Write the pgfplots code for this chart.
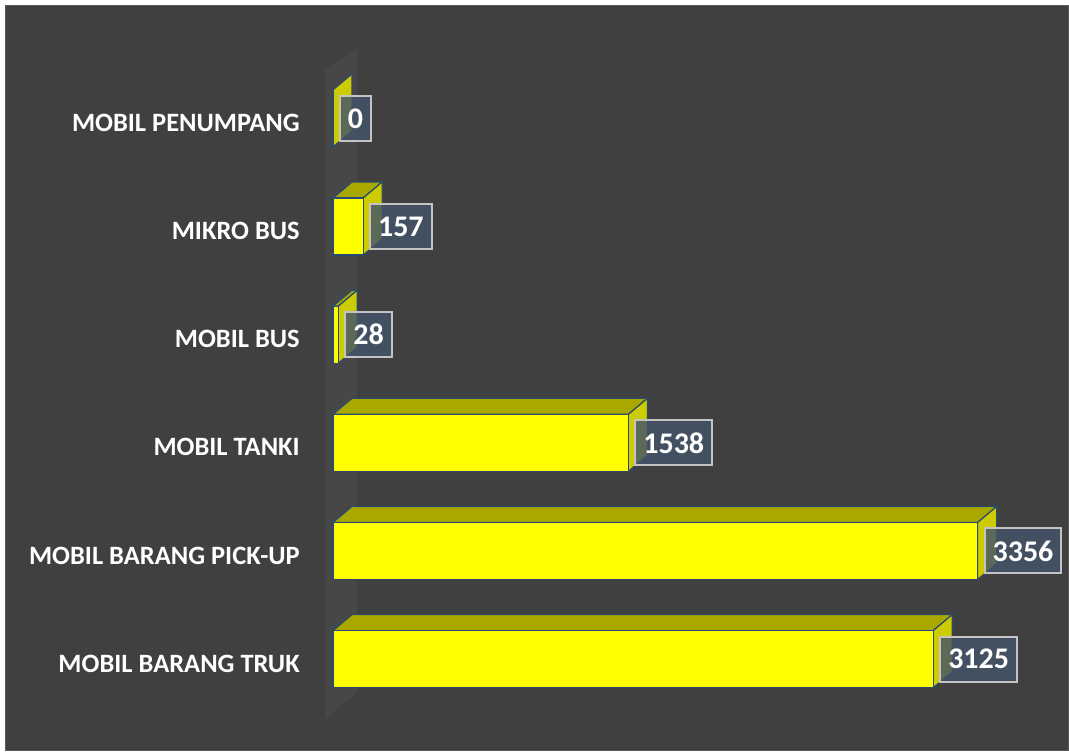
\documentclass[border=0pt]{standalone}
\usepackage{fontspec}
\setmainfont{Carlito}
\usepackage{pgfplots}
\pgfplotsset{compat=1.18}
\definecolor{bgc}{HTML}{404040}
\definecolor{borderc}{HTML}{585858}
\definecolor{wallc}{HTML}{474747}
\definecolor{frontc}{HTML}{FFFF00}
\definecolor{topc}{HTML}{A8A800}
\definecolor{sidec}{HTML}{CCCC00}
\definecolor{edgec}{HTML}{2A4A70}
\definecolor{boxc}{HTML}{44546A}
\definecolor{boxedge}{HTML}{C4C4C4}
\begin{document}
\begin{tikzpicture}
\begin{axis}[
  scale only axis,
  width=1069pt, height=751pt,
  xmin=-1732.6, xmax=3829.0,
  ymin=-0.8457, ymax=6.0952,
  axis line style={draw=none},
  axis background/.style={fill=bgc},
  xtick=\empty,
  ytick={0,1,2,3,4,5},
  yticklabels={MOBIL BARANG TRUK, MOBIL BARANG PICK-UP, MOBIL TANKI, MOBIL BUS, MIKRO BUS, MOBIL PENUMPANG},
  major tick length=0pt,
  yticklabel style={font=\bfseries\fontsize{26.5}{30}\selectfont, text=white, anchor=east, inner sep=0pt, xshift=300pt, yshift=-4.5pt},
  clip=false,
]
% white margins and chart border
\fill[white] (rel axis cs:0,0) rectangle (rel axis cs:0.0047,1);
\fill[white] (rel axis cs:0,0.992) rectangle (rel axis cs:1,1);
\draw[borderc, line width=1pt] (rel axis cs:0.0047,0) rectangle (rel axis cs:1,0.992);
% wall
\addplot[fill=wallc, draw=none] coordinates {(-41.6,-0.559) (124.9,-0.310) (124.9,5.652) (-41.6,5.449)} -- cycle;
% top faces
\addplot[fill=topc, draw=edgec, line width=1.2pt] coordinates {(0,0.2635) (3125,0.2635) (3224,0.4115) (99,0.4115)} -- cycle;
\addplot[fill=topc, draw=edgec, line width=1.2pt] coordinates {(0,1.2635) (3356,1.2635) (3455,1.4115) (99,1.4115)} -- cycle;
\addplot[fill=topc, draw=edgec, line width=1.2pt] coordinates {(0,2.2635) (1538,2.2635) (1637,2.4115) (99,2.4115)} -- cycle;
\addplot[fill=topc, draw=edgec, line width=1.2pt] coordinates {(0,3.2635) (28,3.2635) (127,3.4115) (99,3.4115)} -- cycle;
\addplot[fill=topc, draw=edgec, line width=1.2pt] coordinates {(0,4.2635) (157,4.2635) (256,4.4115) (99,4.4115)} -- cycle;
% side faces
\addplot[fill=sidec, draw=edgec, line width=1.2pt] coordinates {(3125,-0.2635) (3224,-0.1155) (3224,0.4115) (3125,0.2635)} -- cycle;
\addplot[fill=sidec, draw=edgec, line width=1.2pt] coordinates {(3356,0.7365) (3455,0.8845) (3455,1.4115) (3356,1.2635)} -- cycle;
\addplot[fill=sidec, draw=edgec, line width=1.2pt] coordinates {(1538,1.7365) (1637,1.8845) (1637,2.4115) (1538,2.2635)} -- cycle;
\addplot[fill=sidec, draw=edgec, line width=1.2pt] coordinates {(28,2.7365) (127,2.8845) (127,3.4115) (28,3.2635)} -- cycle;
\addplot[fill=sidec, draw=edgec, line width=1.2pt] coordinates {(157,3.7365) (256,3.8845) (256,4.4115) (157,4.2635)} -- cycle;
\addplot[fill=sidec, draw=edgec, line width=1.2pt] coordinates {(0,4.7365) (99,4.8845) (99,5.4115) (0,5.2635)} -- cycle;
% front faces with value labels
\addplot[xbar, bar width=57pt, fill=frontc, draw=edgec, line width=1.2pt,
  point meta=explicit symbolic,
  nodes near coords,
  every node near coord/.append style={anchor=west, xshift=6pt,
    fill=boxc, fill opacity=0.82, text opacity=1, draw=boxedge, line width=2pt,
    text=white, font=\bfseries\fontsize{30}{33}\selectfont,
    inner xsep=8pt, minimum height=45pt},
] coordinates {(3125,0) [3125] (3356,1) [3356] (1538,2) [1538] (28,3) [28] (157,4) [157] (0,5) [0]};
\end{axis}
\end{tikzpicture}
\end{document}
